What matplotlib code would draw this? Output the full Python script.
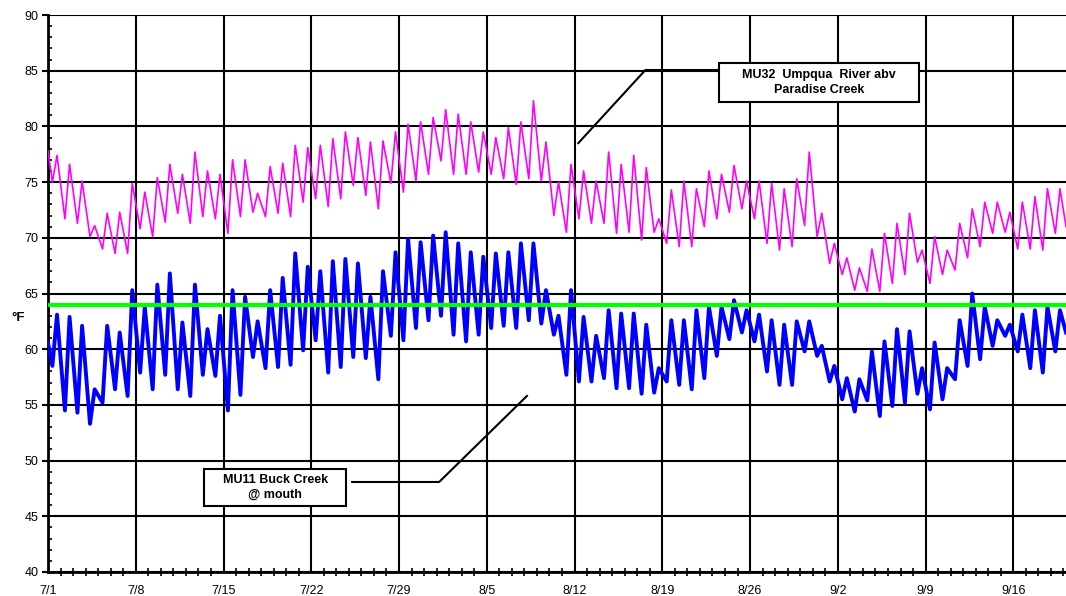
import numpy as np
import matplotlib
matplotlib.use("Agg")
import matplotlib.pyplot as plt
from matplotlib.patches import Rectangle
from matplotlib.ticker import MultipleLocator

plt.rcParams['font.family'] = ['Liberation Sans', 'DejaVu Sans']

# daily lows / highs, deg F, one value per day from 7/1 (day 0) to 9/20 (day 80)
mag_lows = [
    75.0, 71.7, 71.3, 70.1, 69.0, 68.6, 68.6, 70.8, 70.1, 71.4, 72.2, 71.3, 71.9, 71.7,
    70.4, 71.9, 72.3, 71.9, 72.2, 71.9, 73.2, 73.5, 72.8, 73.5, 74.7, 73.8, 72.6, 74.9,
    74.1, 75.1, 75.7, 76.9, 75.7, 75.7, 75.9, 75.7, 75.3, 74.8, 75.3, 75.1, 72.0, 70.5,
    71.7, 71.3, 71.3, 70.4, 70.5, 69.8, 70.5, 69.5, 69.2, 69.2, 71.0, 71.7, 72.3, 72.6,
    71.7, 69.5, 68.9, 69.2, 71.1, 70.1, 67.7, 66.7, 65.3, 65.2, 65.2, 65.9, 66.7, 67.8,
    65.9, 66.7, 67.1, 68.2, 69.2, 70.4, 70.5, 69.0, 69.0, 68.9, 70.4]
mag_highs = [
    77.4, 76.6, 75.1, 71.1, 72.2, 72.3, 74.9, 74.1, 75.4, 76.6, 75.7, 77.7, 76.0, 75.7,
    77.0, 77.0, 74.0, 76.4, 76.7, 78.3, 78.1, 78.3, 78.9, 79.5, 79.0, 78.6, 78.7, 79.5,
    80.2, 80.4, 80.8, 81.5, 81.1, 80.4, 79.5, 79.0, 79.9, 80.4, 82.3, 78.6, 75.0, 76.6,
    76.0, 75.1, 77.7, 76.6, 77.4, 76.3, 71.7, 74.3, 75.1, 74.4, 76.0, 75.7, 76.5, 75.1,
    75.1, 74.9, 74.4, 75.3, 77.7, 72.2, 69.5, 68.2, 67.3, 69.0, 70.4, 71.3, 72.2, 68.9,
    70.1, 68.9, 71.3, 72.6, 73.2, 73.2, 72.3, 73.2, 73.7, 74.4, 74.4]
mag_start, mag_end = 77.8, 71.0

blue_lows = [
    58.5, 54.5, 54.3, 53.3, 55.2, 56.4, 55.8, 57.9, 56.4, 57.7, 56.4, 55.8, 57.7, 57.6,
    54.5, 55.9, 59.3, 58.3, 58.4, 58.6, 59.9, 60.8, 57.9, 58.4, 59.3, 59.2, 57.3, 61.2,
    60.8, 61.9, 62.6, 63.0, 61.3, 60.7, 61.3, 61.9, 62.1, 61.9, 62.6, 62.3, 61.3, 57.7,
    57.1, 57.1, 57.4, 56.5, 56.5, 56.0, 56.1, 57.1, 56.8, 56.4, 57.4, 59.4, 60.9, 61.5,
    60.7, 58.0, 56.8, 56.8, 59.8, 59.4, 57.1, 55.5, 54.4, 55.4, 54.0, 54.9, 55.2, 56.0,
    54.6, 55.5, 57.3, 58.5, 59.1, 60.3, 61.2, 59.8, 58.3, 57.9, 59.8]
blue_highs = [
    63.1, 62.9, 62.1, 56.4, 62.1, 61.5, 65.3, 63.8, 65.8, 66.8, 62.4, 65.8, 61.8, 63.0,
    65.3, 64.7, 62.5, 65.3, 66.4, 68.6, 67.4, 67.0, 67.9, 68.1, 67.7, 64.7, 67.0, 68.7,
    69.9, 69.6, 70.2, 70.5, 69.5, 68.7, 68.3, 68.6, 68.7, 69.5, 69.5, 65.3, 63.0, 65.3,
    62.9, 61.2, 63.5, 63.2, 63.2, 62.2, 58.3, 62.6, 62.6, 63.5, 63.8, 63.8, 64.4, 63.5,
    63.1, 62.6, 62.2, 62.5, 62.5, 60.3, 58.5, 57.4, 57.3, 59.8, 60.7, 61.8, 61.6, 58.3,
    60.6, 58.3, 62.6, 65.0, 63.8, 62.6, 62.2, 63.1, 63.5, 63.8, 63.5]
blue_start, blue_end = 60.6, 61.5

criterion = 64.0
tick_labels = ['7/1', '7/8', '7/15', '7/22', '7/29', '8/5', '8/12',
               '8/19', '8/26', '9/2', '9/9', '9/16']

XMAX = 81.2


def diurnal(lows, highs, start, end):
    days = np.arange(len(lows))
    t = np.column_stack([days + 0.35, days + 0.72]).ravel()
    v = np.column_stack([lows, highs]).ravel()
    t = np.concatenate([[0.0], t, [XMAX]])
    v = np.concatenate([[start], v, [end]])
    return t, v


def callout(ax, box, text, leader):
    x0, x1, y0, y1 = box
    ax.add_patch(Rectangle((x0, y0), x1 - x0, y1 - y0, fc='white', ec='black',
                           lw=1.5, zorder=6))
    ax.text((x0 + x1) / 2, (y0 + y1) / 2, text, ha='center', va='center',
            fontsize=9, fontweight='bold', linespacing=1.3, zorder=7)
    ax.plot(leader[0], leader[1], color='black', lw=1.5, zorder=5)


fig = plt.figure(figsize=(10.66, 5.96), dpi=100)
ax = fig.add_axes([48 / 1066, 24 / 596, 1018 / 1066, 557 / 596])

t, v = diurnal(mag_lows, mag_highs, mag_start, mag_end)
ax.plot(t, v, color='#FF00FF', lw=1.2, zorder=3)
t, v = diurnal(blue_lows, blue_highs, blue_start, blue_end)
ax.plot(t, v, color='#0000FF', lw=2.8, zorder=3, solid_joinstyle='round')
ax.axhline(criterion, color='#00FF00', lw=3.0, zorder=4)

ax.set_xlim(0, XMAX)
ax.set_ylim(40, 90)
ax.set_xticks(np.arange(len(tick_labels)) * 7)
ax.set_xticklabels(tick_labels)
ax.xaxis.set_minor_locator(MultipleLocator(1))
ax.yaxis.set_major_locator(MultipleLocator(5))
ax.yaxis.set_minor_locator(MultipleLocator(1))
ax.grid(True, which='major', color='black', lw=1.5, zorder=1)
ax.set_axisbelow(True)

ax.tick_params(axis='x', which='major', length=0, pad=9, labelsize=9)
ax.tick_params(axis='x', which='minor', direction='inout', length=6, width=1.2)
ax.tick_params(axis='y', which='major', direction='out', length=4, width=1.5,
               pad=3, labelsize=9)
ax.tick_params(axis='y', which='minor', direction='in', length=3, width=1.2)
for side in ['right', 'top']:
    ax.spines[side].set_visible(False)
for side in ['left', 'bottom']:
    ax.spines[side].set_linewidth(2)

fig.text(0.011, 1 - 318 / 596, '°F', fontsize=9.5, fontweight='bold', va='center')

# call-out labels
callout(ax, (53.55, 69.5, 82.19, 85.69), 'MU32  Umpqua  River abv\nParadise Creek',
        ([42.3, 47.65, 53.55], [78.5, 85.06, 85.06]))
callout(ax, (12.45, 23.78, 45.93, 49.25), 'MU11 Buck Creek\n@ mouth',
        ([38.2, 31.2, 24.26], [55.8, 48.08, 48.08]))

fig.savefig('out.png', dpi=100)
